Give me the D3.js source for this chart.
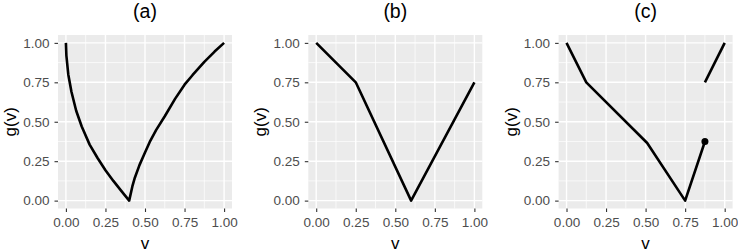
<!DOCTYPE html>
<html>
<head>
<meta charset="utf-8">
<script src="https://cdn.jsdelivr.net/npm/d3@7"></script>
<style>
  body { margin: 0; background: #fff; }
  text { font-family: "Liberation Sans", Arial, sans-serif; }
</style>
</head>
<body>
<div id="chart"></div>
<script>
// panel titles
var titles = ["(a)", "(b)", "(c)"];
var tickVals = [0, 0.25, 0.5, 0.75, 1];
var tickLabels = ["0.00", "0.25", "0.50", "0.75", "1.00"];
var minorVals = [0.125, 0.375, 0.625, 0.875];

// (a) curve
var aV = [0, 0.003, 0.015, 0.035, 0.065, 0.1, 0.15, 0.2, 0.25, 0.3, 0.35, 0.4,
          0.42, 0.434, 0.465, 0.5, 0.53, 0.57, 0.625, 0.69, 0.75, 0.8, 0.875, 0.94, 1];
var aG = [1, 0.92, 0.8, 0.69, 0.57, 0.47, 0.355, 0.27, 0.193, 0.125, 0.062, 0,
          0.09, 0.14, 0.225, 0.305, 0.372, 0.447, 0.535, 0.645, 0.735, 0.795, 0.88, 0.945, 1];

// (b) piecewise linear
var bV = [0, 0.25, 0.6, 1];
var bG = [1, 0.75, 0, 0.75];

// (c) two pieces plus a point
var c1V = [0, 0.125, 0.51, 0.75, 0.875];
var c1G = [1, 0.75, 0.365, 0, 0.375];
var c2V = [0.875, 1];
var c2G = [0.75, 1];
var cDotV = [0.875];
var cDotG = [0.375];

var zip = (v, g) => v.map((d, i) => ({v: d, g: g[i]}));

var panels = [
  {title: titles[0], lines: [zip(aV, aG)], dots: []},
  {title: titles[1], lines: [zip(bV, bG)], dots: []},
  {title: titles[2], lines: [zip(c1V, c1G), zip(c2V, c2G)], dots: zip(cDotV, cDotG)}
];

const W = 738, H = 252;
var panelLeft = [58, 308.3, 558.6];
var pw = 174, pTop = 35, pBottom = 208.5;

var svg = d3.select("#chart").append("svg")
  .attr("width", W).attr("height", H);

panels.forEach(function(p, i) {
  var x0 = panelLeft[i];
  var xScale = d3.scaleLinear().domain([-0.05, 1.05]).range([x0, x0 + pw]);
  var yScale = d3.scaleLinear().domain([-0.05, 1.05]).range([pBottom, pTop]);

  var g = svg.append("g");

  // panel background
  g.append("rect")
    .attr("x", x0).attr("y", pTop)
    .attr("width", pw).attr("height", pBottom - pTop)
    .attr("fill", "#EBEBEB");

  // minor grid
  minorVals.forEach(function(m) {
    g.append("line")
      .attr("x1", xScale(m)).attr("x2", xScale(m))
      .attr("y1", pTop).attr("y2", pBottom)
      .attr("stroke", "#fff").attr("stroke-width", 0.7);
    g.append("line")
      .attr("x1", x0).attr("x2", x0 + pw)
      .attr("y1", yScale(m)).attr("y2", yScale(m))
      .attr("stroke", "#fff").attr("stroke-width", 0.7);
  });

  // major grid
  tickVals.forEach(function(t) {
    g.append("line")
      .attr("x1", xScale(t)).attr("x2", xScale(t))
      .attr("y1", pTop).attr("y2", pBottom)
      .attr("stroke", "#fff").attr("stroke-width", 1.4);
    g.append("line")
      .attr("x1", x0).attr("x2", x0 + pw)
      .attr("y1", yScale(t)).attr("y2", yScale(t))
      .attr("stroke", "#fff").attr("stroke-width", 1.4);
  });

  // axes
  var xAxis = d3.axisBottom(xScale)
    .tickValues(tickVals)
    .tickFormat((d, j) => tickLabels[j])
    .tickSize(3.5)
    .tickPadding(5);
  var yAxis = d3.axisLeft(yScale)
    .tickValues(tickVals)
    .tickFormat((d, j) => tickLabels[j])
    .tickSize(3.5)
    .tickPadding(5);

  var gx = g.append("g")
    .attr("transform", "translate(0," + pBottom + ")")
    .call(xAxis);
  var gy = g.append("g")
    .attr("transform", "translate(" + x0 + ",0)")
    .call(yAxis);
  [gx, gy].forEach(function(a) {
    a.select(".domain").remove();
    a.selectAll(".tick line").attr("stroke", "#333333").attr("stroke-width", 1.1);
    a.selectAll(".tick text")
      .attr("fill", "#4D4D4D")
      .style("font-size", "13.5px")
      .style("font-family", "'Liberation Sans', Arial, sans-serif");
  });

  // data lines
  var line = d3.line().x(d => xScale(d.v)).y(d => yScale(d.g));
  p.lines.forEach(function(l) {
    g.append("path")
      .datum(l)
      .attr("d", line)
      .attr("fill", "none")
      .attr("stroke", "#000")
      .attr("stroke-width", 2.6)
      .attr("stroke-linejoin", "round");
  });
  g.selectAll(".dot")
    .data(p.dots)
    .enter()
    .append("circle")
    .attr("cx", d => xScale(d.v))
    .attr("cy", d => yScale(d.g))
    .attr("r", 3.5)
    .attr("fill", "#000");

  // title
  g.append("text")
    .attr("x", x0 + pw / 2)
    .attr("y", 18)
    .style("text-anchor", "middle")
    .style("font-size", "19.5px")
    .text(p.title);

  // x axis title
  g.append("text")
    .attr("x", x0 + pw / 2)
    .attr("y", 248.5)
    .style("text-anchor", "middle")
    .style("font-size", "17px")
    .text("v");

  // y axis title
  g.append("text")
    .attr("transform", "rotate(-90)")
    .attr("x", -(pTop + pBottom) / 2)
    .attr("y", x0 - 42)
    .style("text-anchor", "middle")
    .style("font-size", "17px")
    .text("g(v)");
});
</script>
</body>
</html>
